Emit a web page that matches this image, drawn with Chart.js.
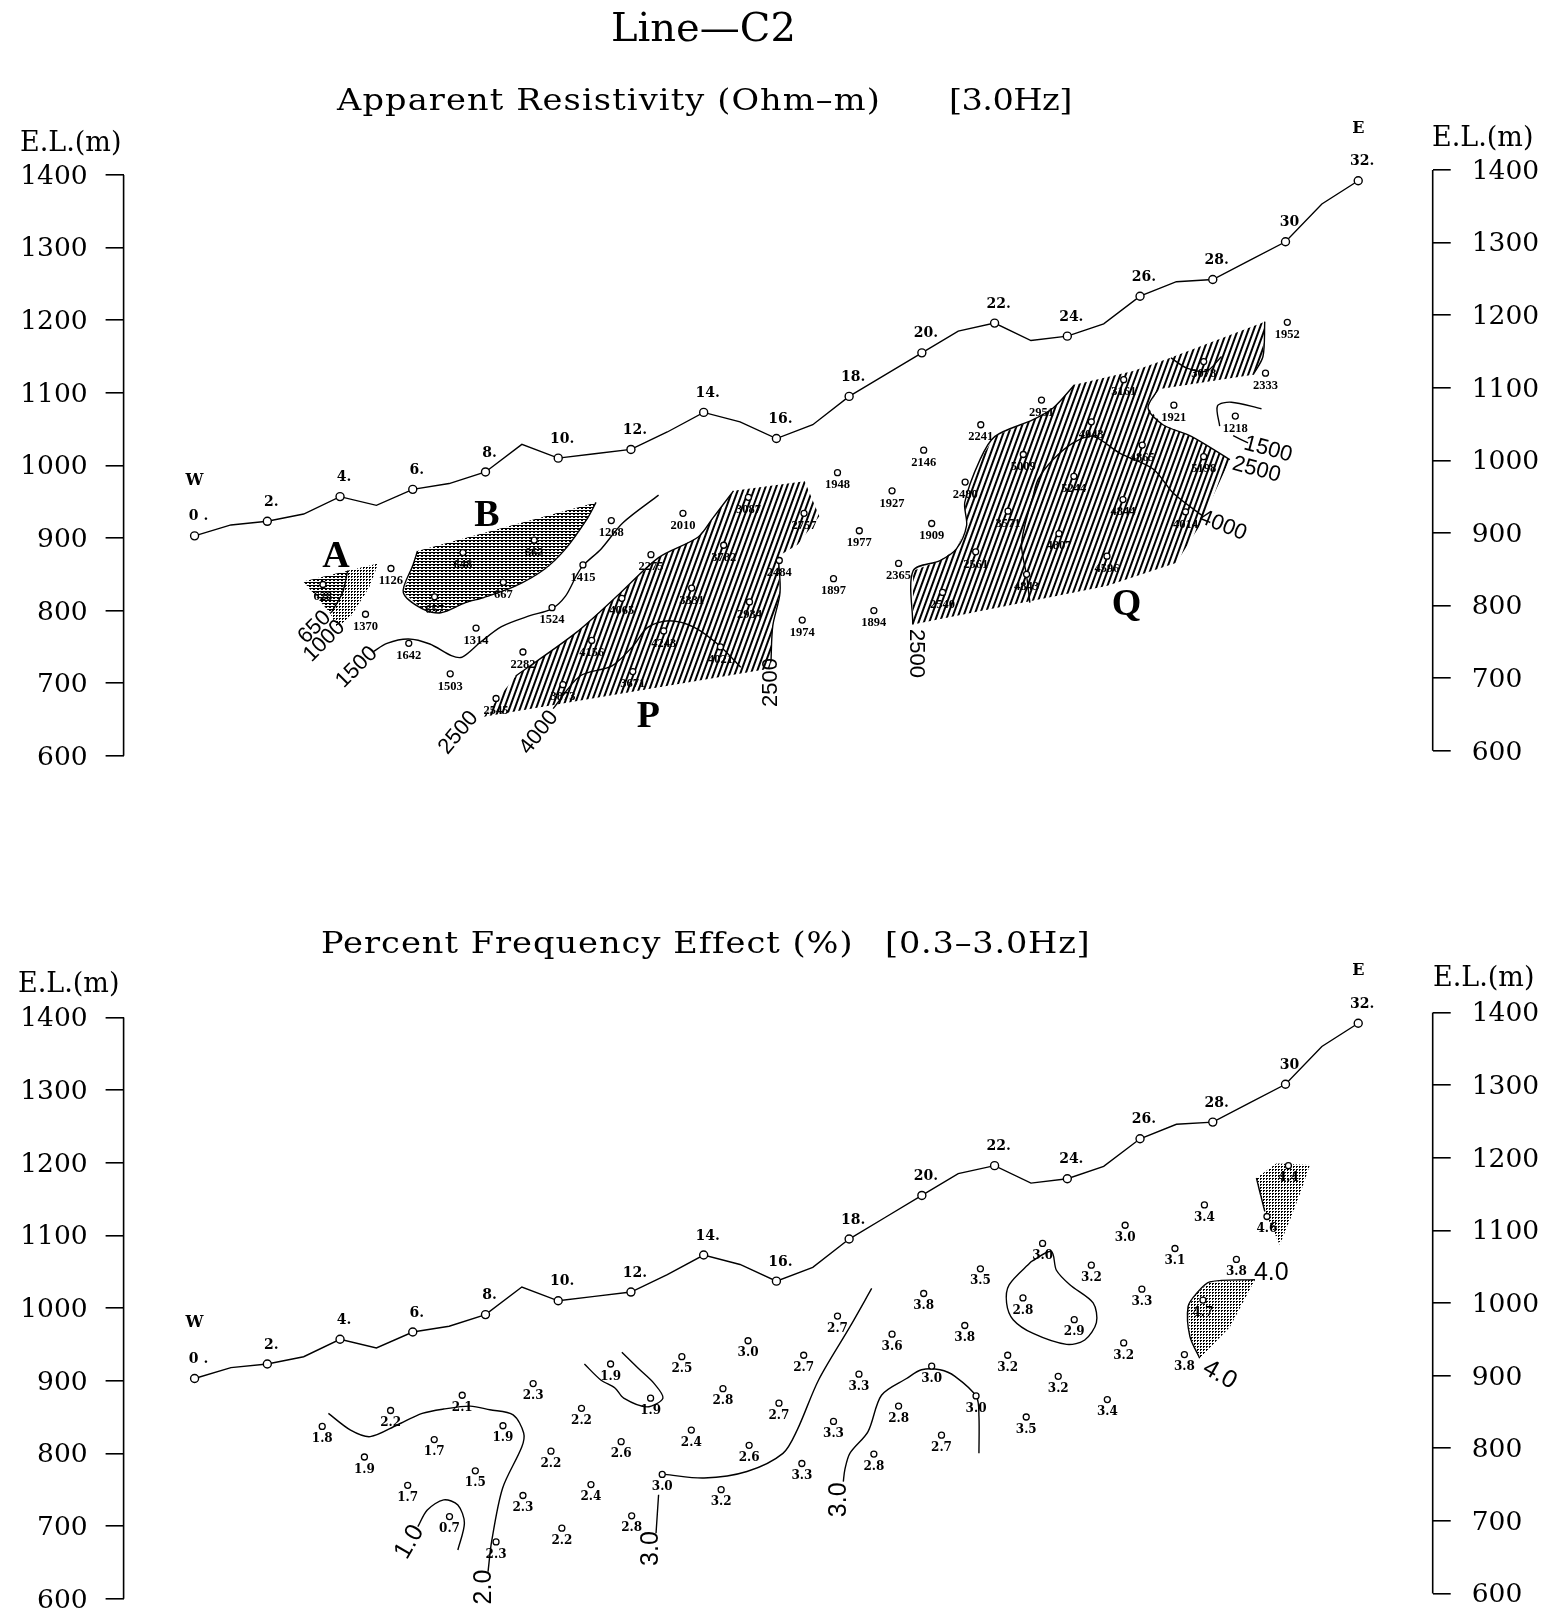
<!DOCTYPE html>
<html>
<head>
<meta charset="utf-8">
<title>Line-C2</title>
<style>
  html, body { margin: 0; padding: 0; background: #fff; }
  body { width: 1547px; height: 1615px; position: relative; overflow: hidden; }
  canvas { position: absolute; left: 0; }
  #resChart { top: 0; }
  #pfeChart { top: 800px; }
  .txt { position: absolute; white-space: pre; color: #000; font-family: "DejaVu Serif", serif; line-height: 1; }
  .main { font-size: 40px; }
  .sub { font-size: 30px; transform: scaleX(1.12); transform-origin: left; }
  .el { font-size: 27px; }
</style>
<script src="https://cdn.jsdelivr.net/npm/chart.js@4"></script>
</head>
<body>
<canvas id="resChart" width="1547" height="800"></canvas>
<canvas id="pfeChart" width="1547" height="850"></canvas>

<div class="txt main" style="left:611px;top:7px">Line—C2</div>
<div class="txt sub" style="left:337px;top:85px;letter-spacing:1px">Apparent Resistivity (Ohm–m)</div>
<div class="txt sub" style="left:949px;top:85px;letter-spacing:-0.5px">[3.0Hz]</div>
<div class="txt sub" style="left:321px;top:928px;letter-spacing:0.9px">Percent Frequency Effect (%)</div>
<div class="txt sub" style="left:885px;top:928px;letter-spacing:0.7px">[0.3–3.0Hz]</div>
<div class="txt el" style="left:20px;top:128px">E.L.(m)</div>
<div class="txt el" style="left:1432px;top:123px">E.L.(m)</div>
<div class="txt el" style="left:18px;top:969px">E.L.(m)</div>
<div class="txt el" style="left:1433px;top:963px">E.L.(m)</div>

<script>
// surface profile, same for both panels
var terrainX = [0,1,2,3,4,5,6,7,8,9,10,11,12,13,14,15,16,17,18,19,20,21,22,23,24,25,26,27,28,29,30,31,32];
var terrainElev = [903,918,923,933,957,945,967,975,991,1029,1010,1016,1022,1046,1073,1060,1037,1056,1095,1125,1155,1185,1196,1172,1178,1195,1233,1253,1256,1282,1308,1360,1392];
var stationLabels = ['0 .','2.','4.','6.','8.','10.','12.','14.','16.','18.','20.','22.','24.','26.','28.','30','32.'];
var elevTicks = [600,700,800,900,1000,1100,1200,1300,1400];

// apparent resistivity readings
var resX = [3.53,5.40,4.70,7.38,9.34,8.49,6.60,11.46,10.68,9.83,7.74,5.89,7.03,13.43,12.55,9.03,8.29,10.13,10.92,11.75,13.67,12.90,12.05,14.46,15.26,14.55,15.23,16.76,16.08,16.71,17.57,17.68,19.18,18.28,20.27,20.05,21.62,21.19,19.36,18.68,20.57,21.48,22.37,22.79,23.29,25.55,24.66,24.18,23.77,22.88,25.09,25.53,26.06,26.93,27.75,27.25,27.75,29.45,30.05,28.62];
var resElev = [836,858,795,880,897,839,819,924,863,804,776,755,713,934,877,743,679,698,759,817,831,772,716,750,812,890,956,934,869,787,844,990,965,910,920,1021,1056,977,865,800,825,881,937,1015,1090,1118,1060,985,906,850,875,953,1028,1083,1012,936,1143,1127,1197,1068];
var resLabels = ['628','1126','1370','648','662','667','657','1268','1415','1524','1314','1642','1503','2010','2275','2282','2545','3873','4156','4065','3331','4243','3671','4021','2934','3782','3087','2757','2484','1974','1897','1948','1927','1977','1909','2146','2241','2480','2365','1894','2540','2561','3571','5009','2951','3161','4043','5244','4807','4843','4596','4844','4865','1921','5198','4014','3078','2333','1952','1218'];

// percent frequency effect readings
var pfeX = [3.51,5.39,7.36,9.31,11.44,13.40,15.22,17.68,16.75,14.53,12.54,10.64,8.48,6.59,4.67,16.07,13.66,11.73,9.80,17.57,15.25,7.72,5.86,16.70,12.86,14.48,10.90,9.03,7.01,12.02,10.10,8.29,18.27,19.18,20.05,21.61,23.32,22.78,24.19,21.18,20.27,21.49,19.36,20.54,18.68,22.36,24.66,25.59,27.77,26.96,26.05,25.55,23.75,22.87,25.10,27.22,28.65,27.73,29.49,30.08];
var pfeElev = [837,859,880,896,923,933,955,989,935,889,876,862,838,819,795,869,832,816,803,844,811,776,756,786,771,750,757,742,713,714,697,678,909,964,1020,1054,1089,1014,984,976,920,879,865,825,799,935,1059,1114,1142,1082,1026,952,906,850,874,936,1067,1011,1126,1196];
var pfeLabels = ['1.8','2.2','2.1','2.3','1.9','2.5','3.0','2.7','2.7','2.8','1.9','2.2','1.9','1.7','1.9','2.7','2.4','2.6','2.2','3.3','2.6','1.5','1.7','3.3','3.0','3.2','2.4','2.3','0.7','2.8','2.2','2.3','3.3','3.6','3.8','3.5','3.0','2.8','2.9','3.8','3.0','3.0','2.8','2.7','2.8','3.2','3.2','3.0','3.4','3.1','3.3','3.2','3.2','3.5','3.4','3.8','3.8','4.7','4.6','4.4'];

// hatched zones [station, elevation]
var zoneA1 = [[2.99,840],[4.21,855],[4.07,825],[3.77,798],[3.72,797],[3.33,820]];
var zoneA2 = [[4.21,855],[5.05,865],[4.80,832],[4.31,793],[3.92,777],[3.72,797],[3.77,798],[4.07,825]];
var zoneB = [[6.13,882],[11.04,949],[10.79,926],[10.20,885],[9.62,857],[8.83,834],[7.95,818],[7.45,811],[6.77,797],[6.28,802],[5.74,825],[6.00,862]];
var zoneP = [[14.82,965],[16.78,978],[17.18,930],[16.59,891],[16.05,875],[16.10,825],[15.90,779],[15.85,729],[15.80,720],[7.95,654],[8.83,710],[10.50,770],[11.68,823],[12.76,873],[13.84,901],[14.23,926]];
var zoneQ = [[19.75,781],[19.76,855],[20.50,869],[20.95,885],[21.23,917],[21.18,949],[21.60,1008],[22.01,1040],[23.06,1063],[23.61,1079],[24.20,1111],[25.81,1130],[26.82,1148],[29.43,1198],[29.38,1150],[29.11,1125],[26.50,1105],[26.22,1079],[26.63,1056],[27.41,1040],[28.47,1008],[27.64,917],[27.00,866],[25.08,834]];
var zoneHigh1 = [[29.20,1179],[29.75,1199],[30.67,1197],[30.44,1163],[30.16,1126],[29.84,1087],[29.43,1133]];
var zoneHigh2 = [[29.16,1039],[27.92,1036],[27.55,1020],[27.32,1002],[27.37,961],[27.64,931],[28.47,974]];

// contours, resistivity panel
var resContours = [
  [[4.21,855],[4.07,825],[3.77,798]],
  [[4.90,743],[5.29,755],[5.88,761],[6.47,754],[7.06,738],[7.36,736],[7.85,756],[8.44,778],[9.22,793],[9.81,802],[10.20,820],[10.50,848],[10.68,862],[11.18,885],[11.78,921],[12.76,959]],
  [[9.86,665],[10.60,710],[11.48,724],[12.07,752],[12.46,777],[13.05,786],[13.74,777],[14.43,752],[15.02,722]],
  [[27.73,930],[26.91,962],[26.36,995],[25.44,1017],[24.71,1040],[24.16,1031],[23.61,1008],[23.20,981],[23.06,958],[22.83,917],[22.74,889],[22.88,848],[22.97,811]],
  [[26.85,1148],[27.29,1134],[27.83,1130],[28.24,1150]],
  [[28.19,1054],[28.13,1082],[28.51,1087],[29.34,1078]],
  [[28.56,1041],[28.97,1031]],
  // zone edges that are contours too
  zoneB.slice(1).concat([zoneB[0]]),
  zoneP.slice(4, 8),
  zoneP.slice(10).concat([zoneP[0]]),
  zoneQ.slice(0, 11),
  zoneQ.slice(13, 16),
  zoneQ.slice(16, 21)
];

// contours, frequency effect panel
var pfeContours = [
  [[12.69,690],[12.76,743]],
  [[12.93,771],[14.01,766],[15.19,775],[16.18,800],[16.57,832],[17.16,901],[18.02,974],[18.62,1027]],
  [[8.07,637],[8.17,679],[8.47,752],[9.00,809],[9.05,828],[8.76,853],[8.12,860],[7.58,865],[6.85,861],[6.26,855],[5.57,839],[4.83,823],[4.29,832],[3.68,855]],
  [[6.14,699],[6.40,722],[6.85,736],[7.24,729],[7.42,704],[7.24,667]],
  [[10.72,923],[11.17,901],[11.56,890],[11.80,876],[12.44,864],[12.88,876],[12.64,896],[12.20,917],[11.75,939]],
  [[23.01,1064],[22.40,1032],[22.33,1007],[22.51,984],[23.06,965],[23.98,950],[24.48,956],[24.80,980],[24.71,1007],[24.07,1032],[23.70,1052],[23.56,1078],[23.01,1064]],
  [[17.84,761],[17.88,777],[18.02,800],[18.52,830],[18.89,880],[19.58,903],[19.99,915],[20.50,915],[20.91,906],[21.50,878],[21.57,851],[21.57,800]],
  [[29.20,1179],[29.43,1133]],
  [[29.16,1039],[27.92,1036],[27.55,1020],[27.32,1002],[27.37,961],[27.64,931]]
];

// labels on the contours: station, elevation, text, angle
var resContourLabels = [
  [3.30,777,'650',-45],[3.57,758,'1000',-45],[4.46,722,'1500',-45],[7.26,632,'2500',-50],[9.47,632,'4000',-52],
  [15.85,701,'2500',-90],[19.85,741,'2500',90],[29.52,1022,'1500',15],[29.20,994,'2500',15],[28.28,917,'4000',22]
];
var pfeContourLabels = [
  [5.91,678,'1.0',-60],[7.97,616,'2.0',-90],[12.56,669,'3.0',-90],[17.72,736,'3.0',-90],[29.61,1048,'4.0',0],[28.19,908,'4.0',30]
];
var resLetters = [[3.89,873,'A'],[8.04,930,'B'],[12.48,653,'P'],[25.63,807,'Q']];

function xy(pairs) {
  return pairs.map(function(p) { return {x: p[0], y: p[1]}; });
}
function closed(pairs) {
  return xy(pairs.concat([pairs[0]]));
}

function tile(w, h, paint) {
  var c = document.createElement('canvas');
  c.width = w; c.height = h;
  var g = c.getContext('2d');
  g.fillStyle = '#000';
  paint(g);
  return document.createElement('canvas').getContext('2d').createPattern(c, 'repeat');
}
var stripes = tile(5, 5, function(g) { g.fillRect(0, 0, 2, 5); });
stripes.setTransform(new DOMMatrix().rotate(20));
var fineLines = tile(4, 3, function(g) { g.fillRect(0, 0, 4, 1); g.fillRect(1, 1, 2, 1); });
var dots = tile(3, 3, function(g) { g.fillRect(0, 0, 2, 1); g.fillRect(0, 1, 1, 1); });

function zone(pairs, pattern) {
  return {data: closed(pairs), showLine: true, fill: 'shape', backgroundColor: pattern, borderWidth: 0, pointRadius: 0, tension: 0};
}
function contour(pairs) {
  return {data: xy(pairs), showLine: true, fill: false, borderColor: '#000', borderWidth: 1.4, pointRadius: 0, tension: 0.3};
}

// text written at data positions, axis lines between the end ticks
var profileText = {
  id: 'profileText',
  afterDatasetsDraw: function(chart, args, opts) {
    var ctx = chart.ctx, sx = chart.scales.x, sy = chart.scales.y;
    ctx.save();
    ctx.fillStyle = '#000';
    ctx.strokeStyle = '#000';
    ctx.lineWidth = 1.6;
    ctx.beginPath();
    ctx.moveTo(chart.chartArea.left, sy.getPixelForValue(600));
    ctx.lineTo(chart.chartArea.left, sy.getPixelForValue(1400));
    ctx.moveTo(chart.chartArea.right, chart.scales.y2.getPixelForValue(600));
    ctx.lineTo(chart.chartArea.right, chart.scales.y2.getPixelForValue(1400));
    ctx.stroke();
    ctx.textAlign = 'center';
    ctx.textBaseline = 'middle';
    opts.marks.forEach(function(m) {
      ctx.save();
      ctx.translate(sx.getPixelForValue(m.x) + (m.dx || 0), sy.getPixelForValue(m.y) + (m.dy || 0));
      if (m.rot) ctx.rotate(m.rot * Math.PI / 180);
      ctx.font = m.font;
      ctx.fillText(m.text, 0, 0);
      ctx.restore();
    });
    ctx.restore();
  }
};

function commonMarks() {
  var marks = [];
  stationLabels.forEach(function(t, i) {
    marks.push({x: i * 2, y: terrainElev[i * 2], text: t, dx: 4, dy: -19, font: 'bold 14px "DejaVu Serif"'});
  });
  marks.push({x: 0, y: 979, text: 'W', font: 'bold 16px "DejaVu Serif"'});
  marks.push({x: 32, y: 1464, text: 'E', font: 'bold 16px "DejaVu Serif"'});
  return marks;
}

function drawPanel(id, topPad, bottomPad, pointsX, pointsY, labels, labelFont, contourFont, zones, contours, contourLabels, letters) {
  var marks = commonMarks();
  labels.forEach(function(t, i) {
    marks.push({x: pointsX[i], y: pointsY[i], text: t, dy: 12.5, font: labelFont});
  });
  contourLabels.forEach(function(c) {
    marks.push({x: c[0], y: c[1], text: c[2], rot: c[3], font: contourFont});
  });
  letters.forEach(function(c) {
    marks.push({x: c[0], y: c[1], text: c[2], font: 'bold 38px "Liberation Serif"'});
  });

  var readings = pointsX.map(function(x, i) { return {x: x, y: pointsY[i]}; });
  var surface = terrainX.map(function(x, i) { return {x: x, y: terrainElev[i]}; });
  var datasets = [
    {data: readings, showLine: false, pointRadius: 3, pointBorderWidth: 1.3, pointBorderColor: '#000', pointBackgroundColor: '#fff'},
    {data: surface, showLine: true, fill: false, borderColor: '#000', borderWidth: 1.4, tension: 0,
      pointBorderColor: '#000', pointBackgroundColor: '#fff', pointBorderWidth: 1.4,
      pointRadius: function(c) { return c.raw.x % 2 === 0 ? 4 : 0; }}
  ].concat(contours.map(contour), zones);

  return new Chart(document.getElementById(id).getContext('2d'), {
    type: 'scatter',
    data: {datasets: datasets},
    plugins: [profileText],
    options: {
      responsive: false,
      animation: false,
      layout: {padding: {left: 0, right: 0, top: topPad, bottom: bottomPad}},
      plugins: {
        legend: {display: false},
        tooltip: {enabled: false},
        profileText: {marks: marks}
      },
      scales: {
        x: {type: 'linear', display: false, min: -1.952, max: 34.048},
        y: elevAxis('left', 590, 1410, 123.6, 18),
        y2: elevAxis('right', 583, 1403, 114.3, 21)
      }
    }
  });
}

function elevAxis(side, min, max, width, pad) {
  return {
    type: 'linear',
    position: side,
    min: min,
    max: max,
    border: {display: false},
    grid: {drawOnChartArea: false, color: '#000', lineWidth: 1.6, tickLength: 18},
    ticks: {
      autoSkip: false,
      color: '#000',
      padding: pad,
      labelOffset: 2,
      font: {family: '"DejaVu Serif"', size: 26.5},
      callback: function(v) { return String(v); }
    },
    afterBuildTicks: function(axis) {
      axis.ticks = elevTicks.map(function(v) { return {value: v}; });
    },
    afterFit: function(axis) { axis.width = width; }
  };
}

drawPanel('resChart', 167.7, 35.7, resX, resElev, resLabels, 'bold 12.5px "Liberation Serif"', '22px "Liberation Sans"',
  [zone(zoneA1, fineLines), zone(zoneA2, dots), zone(zoneB, fineLines), zone(zoneP, stripes), zone(zoneQ, stripes)],
  resContours, resContourLabels, resLetters);

drawPanel('pfeChart', 210.2, 44.1, pfeX, pfeElev, pfeLabels, 'bold 12px "DejaVu Serif"', '25px "Liberation Sans"',
  [zone(zoneHigh1, dots), zone(zoneHigh2, dots)],
  pfeContours, pfeContourLabels, []);
</script>
</body>
</html>
